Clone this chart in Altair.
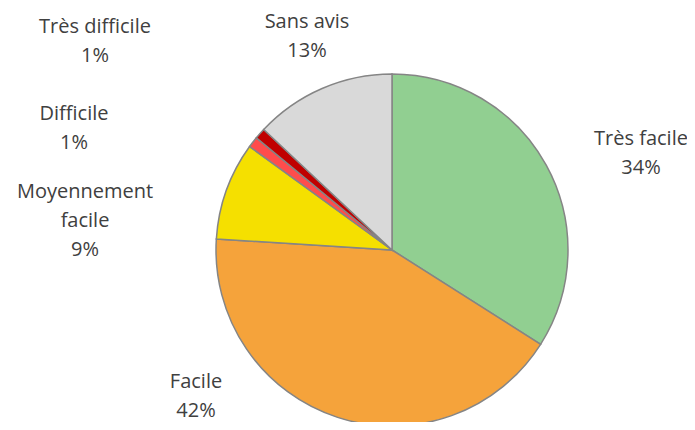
import altair as alt
import pandas as pd

# Data
categories = ["Très facile", "Facile", "Moyennement facile", "Difficile", "Très difficile", "Sans avis"]
values = [34, 42, 9, 1, 1, 13]
colors = ["#91CF91", "#F5A33B", "#F5E000", "#FF4C4C", "#C00000", "#D9D9D9"]

# Label layout (pixel positions of each label's first baseline, chart coords)
label_x = [633, 188, 77, 66, 87, 299]
label_y = [137, 380, 190, 112, 25, 20]
wrap = {"Moyennement facile": "Moyennement\nfacile"}

total = sum(values)
df = pd.DataFrame({
    "cat": categories,
    "value": values,
    "order": list(range(len(categories))),
    "label": [wrap.get(c, c) + "\n" + f"{round(v / total * 100)}%" for c, v in zip(categories, values)],
    "lx": label_x,
    "ly": label_y,
})

W, H = 679, 414
CX, CY, R = 384, 242, 176

pie = alt.Chart(df).mark_arc(radius=R, stroke="#858585", strokeWidth=1.5).encode(
    theta=alt.Theta("value:Q", stack=True),
    order=alt.Order("order:Q"),
    color=alt.Color("cat:N", scale=alt.Scale(domain=categories, range=colors), legend=None),
    x=alt.value(CX),
    y=alt.value(CY),
)

labels = alt.Chart(df).mark_text(
    font="Open Sans", fontSize=20, color="#404040", align="center", baseline="alphabetic",
    lineBreak="\n", lineHeight=29,
).encode(
    x=alt.X("lx:Q", scale=None, axis=None),
    y=alt.Y("ly:Q", scale=None, axis=None),
    text="label:N",
)

chart = alt.layer(pie, labels).properties(
    width=W, height=H, padding=0, autosize=alt.AutoSizeParams(type="none"),
).configure_view(stroke=None)

chart.save("out.html", embed_options={"renderer": "svg", "actions": False})
